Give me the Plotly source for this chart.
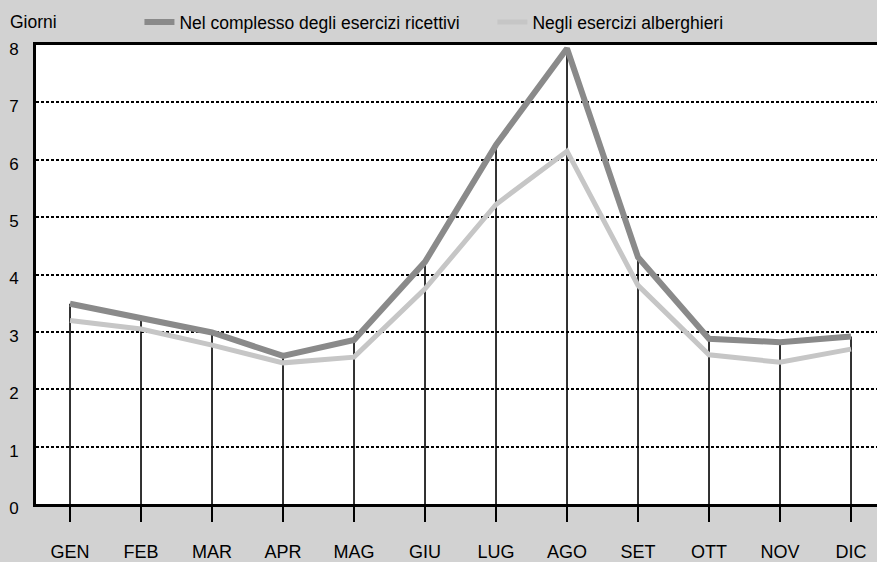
import plotly.graph_objects as go

months = ["GEN", "FEB", "MAR", "APR", "MAG", "GIU", "LUG", "AGO", "SET", "OTT", "NOV", "DIC"]
complesso = [3.49, 3.25, 2.99, 2.58, 2.86, 4.22, 6.26, 7.94, 4.30, 2.88, 2.82, 2.92]
alberghieri = [3.20, 3.05, 2.77, 2.46, 2.56, 3.75, 5.22, 6.15, 3.81, 2.60, 2.47, 2.70]
y_ticks = [0, 1, 2, 3, 4, 5, 6, 7, 8]
name_complesso = "Nel complesso degli esercizi ricettivi"
name_alberghieri = "Negli esercizi alberghieri"

FONT = "Liberation Sans, Arial, Helvetica, sans-serif"

# drop lines from 0 up to the upper series
drop_x, drop_y = [], []
for m, v in zip(months, complesso):
    drop_x += [m, m, None]
    drop_y += [0, v, None]

fig = go.Figure()
fig.add_trace(go.Scatter(x=drop_x, y=drop_y, mode="lines",
                         line=dict(color="black", width=1.6),
                         showlegend=False, hoverinfo="skip"))
fig.add_trace(go.Scatter(x=months, y=complesso, mode="lines", name=name_complesso,
                         line=dict(color="#8a8a8a", width=6)))
fig.add_trace(go.Scatter(x=months, y=alberghieri, mode="lines", name=name_alberghieri,
                         line=dict(color="#c6c6c6", width=5)))

fig.update_layout(
    width=877, height=562,
    margin=dict(l=36, r=0, t=45, b=55),
    paper_bgcolor="#d2d2d2",
    plot_bgcolor="white",
    font=dict(family=FONT, size=17, color="black"),
    legend=dict(orientation="h", x=0.123, xanchor="left", y=1.05, yanchor="middle",
                bgcolor="rgba(0,0,0,0)", font=dict(size=17.5),
                entrywidth=308, itemwidth=30),
    xaxis=dict(type="category", categoryorder="array", categoryarray=months,
               range=[-0.479, 11.366], showgrid=False,
               showline=True, linecolor="black", linewidth=3, mirror=True,
               ticks="outside", ticklen=15, tickwidth=1.6, tickcolor="black",
               tickfont=dict(size=18), ticklabelstandoff=14, zeroline=False),
    yaxis=dict(range=[0, 8], tickvals=y_ticks, showgrid=True, gridcolor="black",
               gridwidth=1.5, griddash="3px,2px",
               showline=True, linecolor="black", linewidth=3, mirror=False,
               ticks="", tickfont=dict(size=17), ticklabelstandoff=11,
               ticklabelshift=4, zeroline=False),
    annotations=[dict(text="Giorni", xref="paper", yref="paper", x=-0.0333, y=1.05,
                      xanchor="left", yanchor="middle", showarrow=False,
                      font=dict(size=17.5))],
)

fig.write_html("out.html", config={"displayModeBar": False},
               post_script="document.body.style.margin='0';document.body.style.overflow='hidden';")
